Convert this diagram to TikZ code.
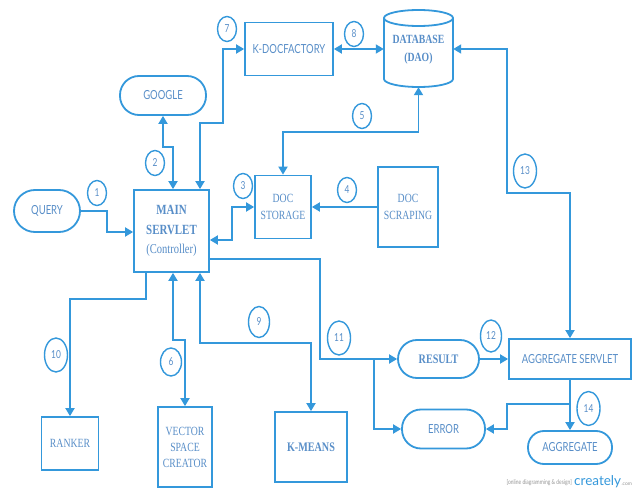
\documentclass[tikz,border=0pt]{standalone}
\usepackage{fontspec}
\setmainfont{Liberation Serif}
\newfontfamily\sansf[FakeStretch=0.76]{Lato}
\newfontfamily\lato{Lato}
\newfontfamily\serf[FakeStretch=0.78]{Liberation Serif}
\usetikzlibrary{arrows.meta,shapes.geometric}
\definecolor{ln}{RGB}{52,152,219}
\definecolor{tx}{RGB}{88,142,200}
\definecolor{wmg}{RGB}{150,150,150}
\begin{document}
\begin{tikzpicture}[x=1pt,y=-1pt,
  box/.style={draw=ln, line width=1.8pt, fill=white, inner sep=0pt, text=tx, align=center},
  pill/.style={box, rounded corners=#1},
  ssans/.style={font=\sansf\fontsize{12.5}{15}\selectfont},
  sreg/.style={font=\serf\fontsize{12.5}{17}\selectfont},
  sbold/.style={font=\serf\bfseries\fontsize{13}{18}\selectfont},
  num/.style={ellipse, draw=ln, line width=1.4pt, fill=white, inner sep=0pt, text=tx,
    minimum width=19pt, minimum height=25pt, font=\sansf\fontsize{11}{12}\selectfont},
  numw/.style={num, minimum width=23pt, minimum height=34pt},
  con/.style={draw=ln, line width=1.8pt},
  arr/.style={con, -{Triangle[length=8pt,width=9pt]}},
  darr/.style={con, {Triangle[length=8pt,width=9pt]}-{Triangle[length=8pt,width=9pt]}}]
\useasboundingbox (0,0) rectangle (632,489);
\fill[white] (0,0) rectangle (632,489);

% nodes
\node[pill=21pt, ssans, minimum width=66pt, minimum height=42pt] (query) at (47,211) {QUERY};
\node[box, font=\serf\bfseries\fontsize{14}{19.5}\selectfont, minimum width=75pt, minimum height=82pt] (main) at (171.5,231)
  {MAIN\\SERVLET\\\mdseries\fontsize{13.5}{19.5}\selectfont (Controller)};
\node[pill=19pt, ssans, minimum width=86pt, minimum height=39pt] (google) at (163,95.5) {GOOGLE};
\node[box, ssans, minimum width=88pt, minimum height=53pt] (kdoc) at (289,49) {K-DOCFACTORY};
\node[box, sreg, minimum width=56pt, minimum height=63pt] (docst) at (283,207) {DOC\\STORAGE};
\node[box, sreg, minimum width=60pt, minimum height=80pt] (docscr) at (408,207) {DOC\\SCRAPING};
\node[box, sreg, minimum width=57pt, minimum height=53pt] (ranker) at (70,443.5) {RANKER};
\node[box, font=\serf\fontsize{12.5}{16}\selectfont, minimum width=54pt, minimum height=80pt] (vector) at (185,447) {VECTOR\\SPACE\\CREATOR};
\node[box, sbold, minimum width=72pt, minimum height=70pt] (kmeans) at (311,447) {K-MEANS};
\node[pill=19pt, sbold, minimum width=81pt, minimum height=38pt] (result) at (438.5,359) {RESULT};
\node[pill=19pt, ssans, minimum width=83pt, minimum height=39pt] (error) at (443.5,429) {ERROR};
\node[box, ssans, minimum width=122pt, minimum height=40pt] (aggserv) at (570,359) {AGGREGATE SERVLET};
\node[pill=16pt, ssans, minimum width=84pt, minimum height=33pt] (aggregate) at (570,447.5) {AGGREGATE};

% database cylinder
\node[minimum width=69pt, minimum height=77pt, inner sep=0pt] (db) at (418.5,48.5) {};
\fill[white] (384,18) -- (384,79) arc[start angle=180,end angle=360,x radius=34.5pt,y radius=8pt] -- (453,18) -- cycle;
\draw[con] (384,18) -- (384,79) arc[start angle=180,end angle=360,x radius=34.5pt,y radius=8pt] -- (453,18);
\draw[con, fill=white] (418.5,18) ellipse[x radius=34.5pt, y radius=8pt];
\node[text=tx, align=center, font=\serf\bfseries\fontsize{12.5}{18}\selectfont] (dbtext) at (418.5,50) {DATABASE\\(DAO)};

% connectors
\coordinate (b11) at (374,359);
\coordinate (b14) at (570,404);
\draw[arr] (query.east) -- (107,211) -- (107,232) -- (main.west |- 0,232);
\draw[darr] (google.south) -- (163,147) -- (173,147) -- (main.north -| 173,0);
\draw[darr] (main.north -| 200,0) -- (200,123) -- (223,123) -- (223,49) -- (kdoc.west);
\draw[darr] (kdoc.east) -- (db.west |- kdoc.east);
\draw[darr] (db.south) -- (418.5,132) -- (283,132) -- (docst.north);
\draw[darr] (main.east |- 0,240) -- (232,240) -- (232,207) -- (docst.west);
\draw[arr] (docscr.west) -- (docst.east);
\draw[darr] (db.east |- 0,49) -- (507,49) -- (507,193) -- (570,193) -- (aggserv.north);
\draw[arr] (main.south -| 146,0) -- (146,299) -- (70,299) -- (ranker.north);
\draw[darr] (main.south -| 173,0) -- (173,340) -- (185,340) -- (vector.north);
\draw[darr] (main.south -| 200,0) -- (200,343) -- (311,343) -- (kmeans.north);
\draw[arr] (main.east |- 0,259) -- (320,259) -- (320,359) -- (result.west);
\draw[arr] (b11) -- (374,429) -- (error.west);
\draw[arr] (result.east) -- (aggserv.west);
\draw[arr] (aggserv.south) -- (aggregate.north);
\draw[arr] (b14) -- (507,404) -- (507,429) -- (error.east);

% numbers
\node[num] (n1) at (97,193) {1};
\node[num] (n2) at (155,163) {2};
\node[num] (n3) at (243,186) {3};
\node[num] (n4) at (347,190) {4};
\node[num] (n5) at (362,116) {5};
\node[num, minimum width=21pt, minimum height=28pt] (n6) at (171,362) {6};
\node[num] (n7) at (227,29) {7};
\node[num] (n8) at (354,34) {8};
\node[num, minimum width=21pt, minimum height=31pt] (n9) at (259,322) {9};
\node[numw] (n10) at (56,355) {10};
\node[numw] (n11) at (339,338) {11};
\node[numw, minimum width=21pt, minimum height=32pt] (n12) at (491,336) {12};
\node[numw] (n13) at (525,171) {13};
\node[numw] (n14) at (588.5,408.5) {14};

% watermark
\node[anchor=base east, inner sep=0pt, text=wmg, font=\sansf\fontsize{6.5}{7}\selectfont] (wm) at (572,484) {[online diagramming \& design]};
\node[anchor=base west, inner sep=0pt, text=ln, font=\lato\fontsize{13.5}{14}\selectfont] (cr) at (574,485) {creately};
\node[anchor=base west, inner sep=0pt, text=wmg, font=\lato\fontsize{5}{6}\selectfont] (com) at (cr.base east) {.com};
\end{tikzpicture}
\end{document}
